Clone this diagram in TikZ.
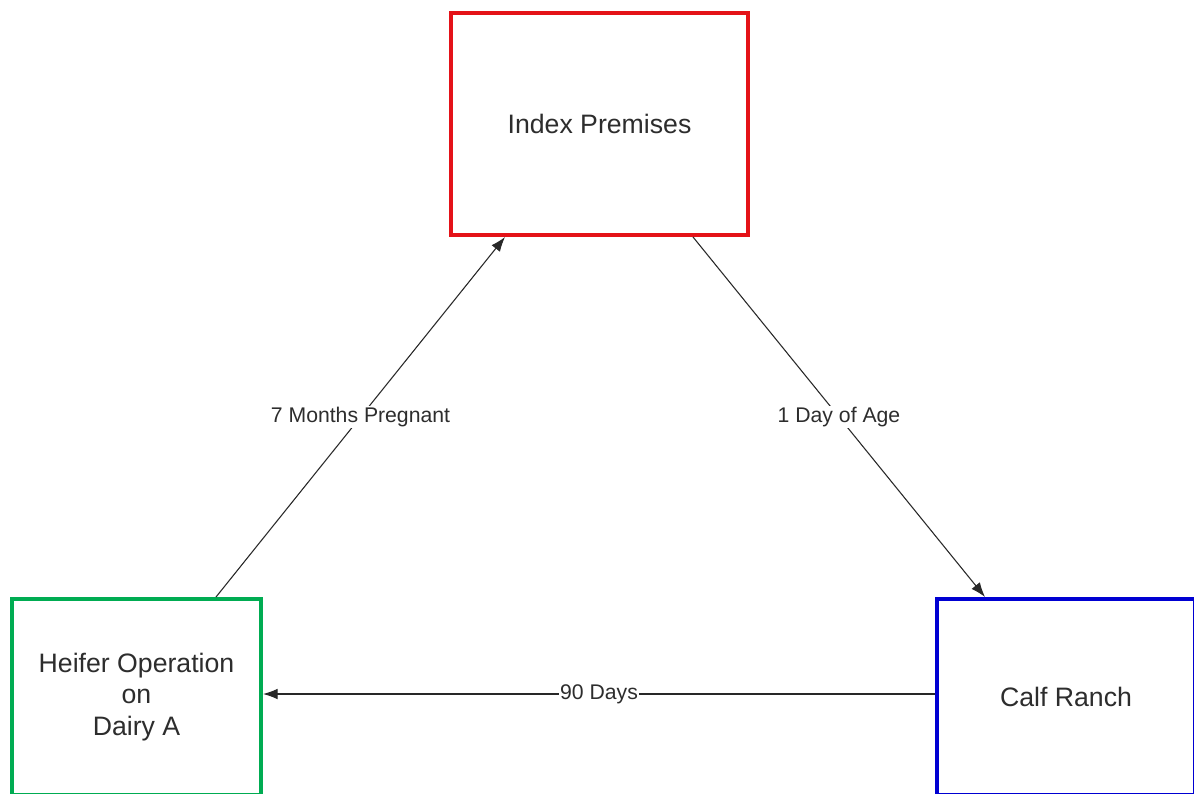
\documentclass[tikz,border=0pt]{standalone}
\usepackage{fontspec}
\setmainfont{Liberation Sans}
\usetikzlibrary{arrows.meta}
\definecolor{boxred}{RGB}{228,18,24}
\definecolor{boxgreen}{RGB}{0,172,82}
\definecolor{boxblue}{RGB}{0,0,210}
\definecolor{txt}{RGB}{45,45,45}
\definecolor{conn}{RGB}{40,40,40}
\begin{document}
\begin{tikzpicture}[x=0.75pt,y=-0.75pt,
  premise/.style={draw, line width=3pt, fill=white, inner sep=0pt, align=center,
    text=txt, font=\fontsize{20}{23.6}\selectfont},
  link/.style={draw=conn, line width=0.8pt, -{Latex[length=11pt,width=8pt]}},
  lbl/.style={fill=white, inner sep=1pt, text=txt, font=\fontsize{15.9}{18}\selectfont}]
\useasboundingbox (0,0) rectangle (1194,793);
\clip (0,0) rectangle (1194,793);
\fill[white] (0,0) rectangle (1194,793);
\node[premise, draw=boxred, minimum width=222.75pt, minimum height=166.5pt] (index) at (599.5,124) {Index Premises};
\node[premise, draw=boxgreen, minimum width=186.75pt, minimum height=147pt] (heifer) at (136.5,697) {Heifer Operation\\on\\Dairy A};
\node[premise, draw=boxblue, minimum width=193.5pt, minimum height=147pt] (calf) at (1066,697) {Calf Ranch};
\draw[link] ([xshift=154.5pt]heifer.north west) -- node[lbl]{7 Months Pregnant} ([xshift=42pt]index.south west);
\draw[link] ([xshift=183pt]index.south west) -- node[lbl]{1 Day of Age} ([xshift=37.5pt]calf.north west);
\draw[link] ([yshift=2.25pt]calf.west) -- node[lbl, inner sep=0.5pt]{90 Days} ([yshift=2.25pt]heifer.east);
\end{tikzpicture}
\end{document}
